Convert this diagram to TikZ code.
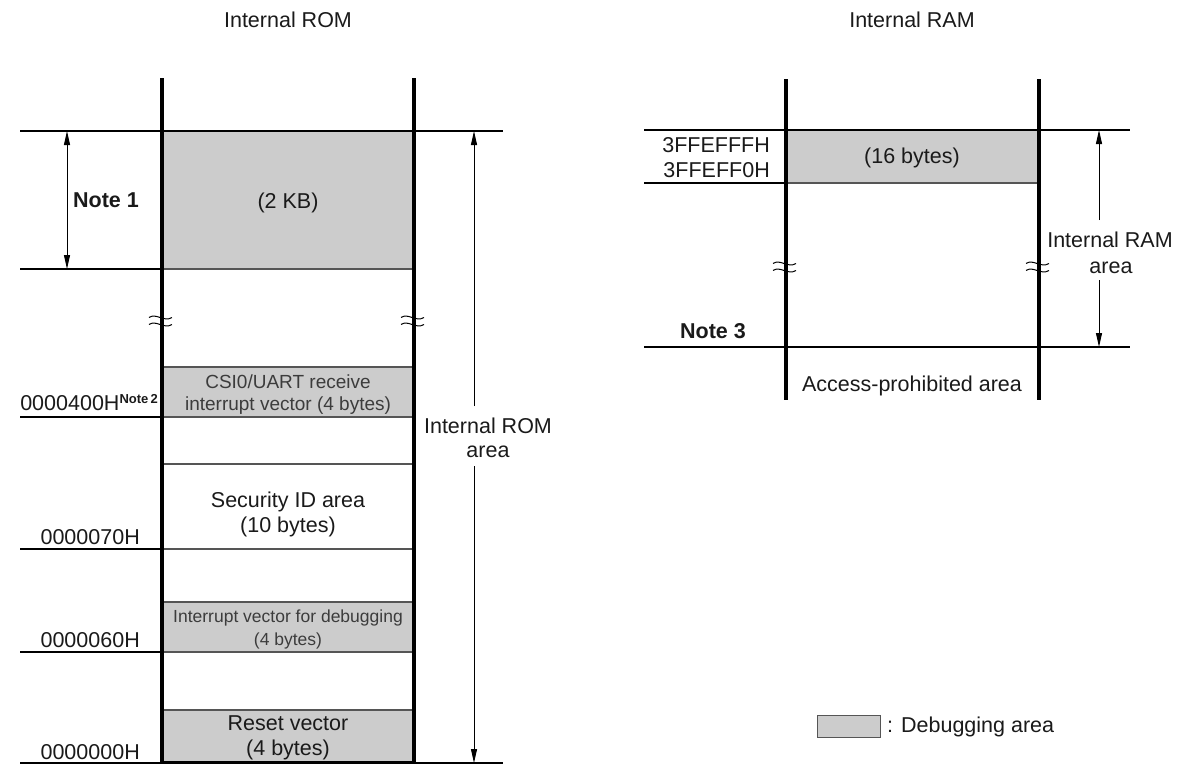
\documentclass[tikz,border=0pt]{standalone}
\usepackage{fontspec}
\setmainfont{Liberation Sans}
\usetikzlibrary{arrows.meta}
\definecolor{dbg}{HTML}{CCCCCC}
\definecolor{edgegray}{HTML}{555555}
\definecolor{ink}{HTML}{1A1A1A}
\tikzset{
  wall/.style={line width=4pt, line cap=butt},
  rule/.style={line width=1.2pt},
  cellbox/.style={fill=dbg},
  celledge/.style={draw=edgegray, line width=1.1pt},
  dimboth/.style={line width=1pt, {Triangle[length=14pt,width=6pt]}-{Triangle[length=14pt,width=6pt]}},
  dimone/.style={line width=1pt, -{Triangle[length=14pt,width=6pt]}},
  lbl/.style={font=\fontsize{21.5}{24}\selectfont, inner sep=0pt, text=ink},
  smalllbl/.style={font=\fontsize{19}{22}\selectfont, inner sep=0pt, text=ink!85},
  tinylbl/.style={font=\fontsize{17.5}{20}\selectfont, inner sep=0pt, text=ink!85},
  boldlbl/.style={font=\fontsize{21.5}{24}\selectfont\bfseries, inner sep=0pt, text=ink},
  brk/.pic={
    \draw[line width=1pt] (-13,-3.5) .. controls (-6,-8.5) and (2,1.5) .. (10,-3.5);
    \draw[line width=1pt] (-13,3.5) .. controls (-6,-1.5) and (2,8.5) .. (10,3.5);
  }
}
\begin{document}
\begin{tikzpicture}[x=1pt,y=-1pt]
\useasboundingbox (0,0) rectangle (1179,764);

% ---------------- Internal ROM ----------------
\node[lbl, anchor=base] (romtitle) at (288,27) {Internal ROM};

% gray debugging areas
\fill[cellbox] (162,131) rectangle (414,269);
\fill[cellbox] (162,367) rectangle (414,417);
\fill[cellbox] (162,602) rectangle (414,652);
\fill[cellbox] (162,710) rectangle (414,763);

% horizontal rules
\draw[rule] (20,131) -- (503,131);
\draw[rule] (20,269) -- (162,269);
\draw[celledge] (162,269) -- (414,269);
\draw[celledge] (162,367) -- (414,367);
\draw[rule] (20,417) -- (162,417);
\draw[celledge] (162,417) -- (414,417);
\draw[celledge] (162,464) -- (414,464);
\draw[rule] (20,549) -- (162,549);
\draw[celledge] (162,549) -- (414,549);
\draw[celledge] (162,602) -- (414,602);
\draw[rule] (20,652) -- (162,652);
\draw[celledge] (162,652) -- (414,652);
\draw[celledge] (162,710) -- (414,710);
\draw[rule] (20,763) -- (503,763);
\draw[line width=3pt] (162,762.5) -- (414,762.5);

% walls
\draw[wall] (162,78) -- (162,764);
\draw[wall] (414,78) -- (414,764);
\pic at (162,321) {brk};
\pic at (414,321) {brk};

% box texts
\node[lbl, anchor=base] (kb2) at (288,208) {(2 KB)};
\node[smalllbl, anchor=base] (csia) at (288,388) {CSI0/UART receive};
\node[smalllbl, anchor=base] (csib) at (288,410) {interrupt vector (4 bytes)};
\node[lbl, anchor=base] (secida) at (288,507) {Security ID area};
\node[lbl, anchor=base] (secidb) at (288,532) {(10 bytes)};
\node[tinylbl, anchor=base] (dbga) at (288,622) {Interrupt vector for debugging};
\node[tinylbl, anchor=base] (dbgb) at (288,645) {(4 bytes)};
\node[lbl, anchor=base] (rsta) at (288,730) {Reset vector};
\node[lbl, anchor=base] (rstb) at (288,755) {(4 bytes)};

% address labels
\node[lbl, anchor=base east] (a400) at (158,410) {0000400H\raisebox{7pt}{\fontsize{13}{13}\selectfont\bfseries Note\,2}};
\node[lbl, anchor=base east] (a070) at (140,544) {0000070H};
\node[lbl, anchor=base east] (a060) at (140,647) {0000060H};
\node[lbl, anchor=base east] (a000) at (140,759) {0000000H};

% Note 1 dimension
\coordinate (n1top) at (67,131);
\coordinate (n1bot) at (67,269);
\draw[dimboth] (n1top) -- (n1bot);
\node[boldlbl, anchor=base] (note1) at (106,207) {Note 1};

% Internal ROM area dimension
\node[lbl, anchor=base] (romareaa) at (488,433) {Internal ROM};
\node[lbl, anchor=base] (romareab) at (488,457) {area};
\coordinate (romup0) at (474,406);
\coordinate (romup1) at (474,131);
\coordinate (romdn0) at (474,466);
\coordinate (romdn1) at (474,763);
\draw[dimone] (romup0) -- (romup1);
\draw[dimone] (romdn0) -- (romdn1);

% ---------------- Internal RAM ----------------
\node[lbl, anchor=base] (ramtitle) at (912,27) {Internal RAM};

\fill[cellbox] (786,130) rectangle (1039,183);
\draw[rule] (644,130) -- (1130,130);
\draw[rule] (644,183) -- (786,183);
\draw[celledge] (786,183) -- (1039,183);
\draw[rule] (644,347) -- (1130,347);

\draw[wall] (786,79) -- (786,400);
\draw[wall] (1039,79) -- (1039,400);
\pic at (786,267) {brk};
\pic at (1039,267) {brk};

\node[lbl, anchor=base] (b16) at (912,163) {(16 bytes)};
\node[lbl, anchor=base east] (hfff) at (770,152) {3FFEFFFH};
\node[lbl, anchor=base east] (hff0) at (770,177) {3FFEFF0H};
\node[boldlbl, anchor=base] (note3) at (713,338) {Note 3};
\node[lbl, anchor=base] (prohib) at (912,391) {Access-prohibited area};

\node[lbl, anchor=base] (ramareaa) at (1110,247) {Internal RAM};
\node[lbl, anchor=base] (ramareab) at (1111,273) {area};
\coordinate (ramup0) at (1099,220);
\coordinate (ramup1) at (1099,130);
\coordinate (ramdn0) at (1099,280);
\coordinate (ramdn1) at (1099,347);
\draw[dimone] (ramup0) -- (ramup1);
\draw[dimone] (ramdn0) -- (ramdn1);

% ---------------- Legend ----------------
\node[draw=edgegray, line width=1.1pt, fill=dbg, minimum width=63pt, minimum height=22pt, inner sep=0pt, anchor=north west] (legbox) at (817,715) {};
\node[lbl, anchor=base west] (legtext) at (887,732) {: Debugging area};
\end{tikzpicture}
\end{document}
